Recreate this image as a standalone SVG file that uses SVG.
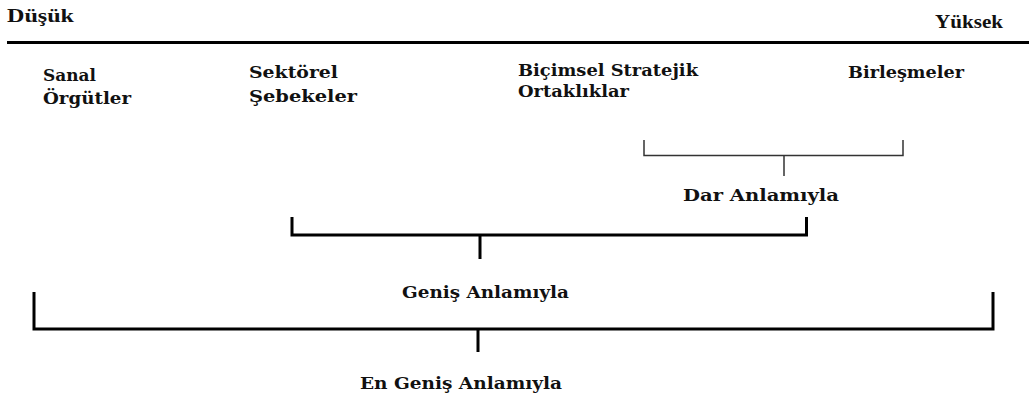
<svg xmlns="http://www.w3.org/2000/svg" width="1029" height="396" viewBox="0 0 1029 396">
<style>
.t{font-family:"DejaVu Serif","Liberation Serif",serif;font-weight:bold;font-size:17.5px;fill:#111}
.h{font-family:"Liberation Serif","DejaVu Serif",serif;font-weight:bold;font-size:18px;fill:#111}
.thick{stroke:#000;stroke-width:3;fill:none}
.thin{stroke:#333;stroke-width:1.5;fill:none}
</style>
<rect width="1029" height="396" fill="#fff"/>
<g id="axis">
<line class="thick" x1="7" y1="42.5" x2="1029" y2="42.5"/>
<text class="h" x="7" y="22" textLength="67" lengthAdjust="spacingAndGlyphs">Düşük</text>
<text class="h" x="935" y="28" textLength="68" lengthAdjust="spacingAndGlyphs">Yüksek</text>
</g>
<g id="sanal">
<text class="t" x="43" y="81" textLength="53" lengthAdjust="spacingAndGlyphs">Sanal</text>
<text class="t" x="43" y="104" textLength="88" lengthAdjust="spacingAndGlyphs">Örgütler</text>
</g>
<g id="sektorel">
<text class="t" x="249" y="78" textLength="89" lengthAdjust="spacingAndGlyphs">Sektörel</text>
<text class="t" x="249" y="102" textLength="108" lengthAdjust="spacingAndGlyphs">Şebekeler</text>
</g>
<g id="bicimsel">
<text class="t" x="518" y="76" textLength="180" lengthAdjust="spacingAndGlyphs">Biçimsel Stratejik</text>
<text class="t" x="518" y="97" textLength="111" lengthAdjust="spacingAndGlyphs">Ortaklıklar</text>
</g>
<g id="birlesmeler">
<text class="t" x="848" y="78" textLength="116" lengthAdjust="spacingAndGlyphs">Birleşmeler</text>
</g>
<g id="dar">
<text class="t" x="683" y="201" textLength="156" lengthAdjust="spacingAndGlyphs">Dar Anlamıyla</text>
</g>
<g id="genis">
<text class="t" x="402" y="298" textLength="167" lengthAdjust="spacingAndGlyphs">Geniş Anlamıyla</text>
</g>
<g id="engenis">
<text class="t" x="360" y="389" textLength="202" lengthAdjust="spacingAndGlyphs">En Geniş Anlamıyla</text>
</g>
<g id="connectors">
<path class="thin" d="M644 140 V155.5 H903 V140 M784 155.5 V176"/>
<path class="thick" d="M292 217 V235 H806.5 V217 M480 235 V259"/>
<path class="thick" d="M34 292 V329 H993 V292 M478 329 V352"/>
</g>
</svg>
